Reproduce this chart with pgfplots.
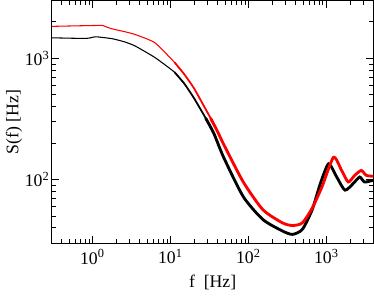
\documentclass[border=0pt]{standalone}
\usepackage{pgfplots}
\pgfplotsset{compat=1.18}
\usepackage{fontspec}
\setmainfont{Liberation Serif}
\begin{document}
\begin{tikzpicture}
\begin{axis}[
  xmode=log, ymode=log, log basis x=10, log basis y=10,
  scale only axis, width=181.7pt, height=137pt,
  xmin=0.3, xmax=4000, ymin=30, ymax=3000,
  tick align=inside, xtick pos=both, ytick pos=both,
  xtick={1,10,100,1000}, ytick={100,1000},
  minor xtick={0.3,0.4,0.5,0.6,0.7,0.8,0.9,2,3,4,5,6,7,8,9,20,30,40,50,60,70,80,90,200,300,400,500,600,700,800,900,2000,3000,4000},
  minor ytick={30,40,50,60,70,80,90,200,300,400,500,600,700,800,900,2000,3000},
  xticklabel={10\textsuperscript{\pgfmathparse{int(round(\tick))}\pgfmathresult}},
  yticklabel={10\textsuperscript{\pgfmathparse{int(round(\tick))}\pgfmathresult}},
  xlabel={f\ \ [Hz]}, ylabel={S(f) [Hz]},
  xlabel style={yshift=1pt}, ylabel style={yshift=-3pt},
  yticklabel style={inner sep=1pt},
  axis line style={line width=0.6pt},
  every tick/.style={black, line width=0.5pt},
  major tick length=4pt, minor tick length=2.3pt,
]
% black
\addplot[black, line width=0.6pt, smooth, tension=0.3] coordinates {
(0.298,1479) (0.823,1461) (1.10,1507) (1.80,1452) (2.63,1363) (3.52,1265)
(6.28,1019) (11.22,771) (15,620)};
\addplot[black, line width=1.0pt, smooth, tension=0.3] coordinates {
(11.22,771) (15,620) (20.09,468) (28.18,322) (36,240)};
\addplot[black, line width=1.6pt, smooth, tension=0.4] coordinates {
(28.18,322) (36,240) (47.97,152.8) (85.7,72.4) (153.1,46.9) (273.5,37.7)
(366.4,35.4) (489.8,38.9) (654.6,56.5) (833.7,92.9) (1062,134.9) (1352,105.2)
(1722,82.0) (2198,92.9) (2661,105.2) (3076,95.7) (3926,98.9)};
% red
\addplot[red, line width=0.6pt, smooth, tension=0.3] coordinates {
(0.298,1837) (0.823,1862) (1.35,1871) (1.47,1828) (1.80,1750) (2.63,1656)
(3.52,1574) (6.28,1349) (11.22,929) (15,740)};
\addplot[red, line width=1.0pt, smooth, tension=0.3] coordinates {
(11.22,929) (15,740) (20.09,564) (32.6,322) (40,250)};
\addplot[red, line width=1.6pt, smooth, tension=0.4] coordinates {
(32.6,322) (40,250) (47.97,196) (85.7,95.7) (153.1,56.5) (273.5,44.0)
(366.4,41.9) (489.8,44.0) (654.6,58.2) (875,87.3) (1230,152.8) (1563,119.1)
(1901,95.7) (2301,108.6) (2793,119.1) (3228,108.6) (3926,106.7)};
\end{axis}
\end{tikzpicture}
\end{document}
